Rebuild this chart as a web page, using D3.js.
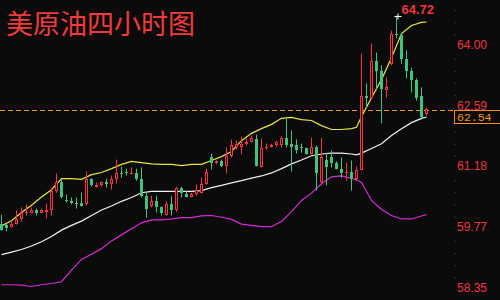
<!DOCTYPE html>
<html>
<head>
<meta charset="utf-8">
<script src="https://cdn.jsdelivr.net/npm/d3@7"></script>
<style>
  html, body { margin: 0; padding: 0; background: #0b0b0b; }
  svg { display: block; }
</style>
</head>
<body>
<div id="chart"></div>
<script>
const [width, height] = [500, 300];

const title = "美原油四小时图";

// 4h candles, oldest first
const open = [59.88, 59.84, 59.81, 59.88, 59.98, 60.14, 60.14, 60.21, 60.14, 60.16,
  60.19, 60.65, 60.84, 60.44, 60.40, 60.37, 60.37, 60.33, 60.91, 60.74,
  60.77, 60.84, 60.81, 60.93, 61.07, 61.09, 61.05, 61.05, 60.91, 60.53,
  60.28, 60.40, 60.26, 60.09, 60.33, 60.19, 60.72, 60.58, 60.51, 60.58,
  60.60, 60.81, 61.42, 61.28, 61.33, 61.23, 61.46, 61.67, 61.67, 61.74,
  61.77, 61.86, 61.19, 61.63, 61.67, 61.70, 61.72, 61.88, 61.74, 61.70,
  61.67, 61.63, 61.51, 61.67, 60.84, 61.37, 61.44, 61.28, 61.16, 61.05,
  61.09, 60.91, 61.14, 62.86, 62.81, 63.67, 63.44, 63.00, 63.60, 64.30,
  64.26, 63.72, 63.44, 63.21, 62.86, 62.44];
const high = [60.09, 59.88, 59.95, 60.19, 60.26, 60.33, 60.26, 60.23, 60.23, 60.35,
  60.70, 61.05, 60.91, 60.56, 60.49, 60.49, 60.60, 61.09, 60.93, 60.84,
  60.86, 60.93, 61.00, 61.37, 61.21, 61.16, 61.19, 61.16, 61.19, 60.60,
  60.53, 60.53, 60.28, 60.40, 60.53, 60.74, 60.74, 60.65, 60.60, 60.79,
  60.95, 61.16, 61.51, 61.35, 61.37, 61.65, 61.84, 61.81, 61.91, 61.86,
  61.93, 61.95, 61.86, 61.74, 61.74, 61.81, 61.91, 62.33, 62.05, 61.84,
  61.74, 61.65, 61.88, 61.70, 61.88, 61.53, 61.58, 61.33, 61.42, 61.30,
  61.35, 61.21, 63.84, 63.14, 64.07, 63.86, 63.56, 63.28, 64.37, 64.72,
  64.30, 63.91, 63.51, 63.26, 63.05, 62.58];
const low = [59.72, 59.70, 59.79, 59.86, 59.93, 60.07, 60.12, 60.07, 60.12, 60.00,
  60.07, 60.60, 60.47, 60.37, 60.33, 60.23, 60.28, 60.30, 60.74, 60.72,
  60.74, 60.72, 60.67, 60.81, 60.95, 61.00, 61.02, 60.88, 60.49, 60.02,
  60.26, 60.14, 60.07, 60.07, 60.07, 60.16, 60.49, 60.49, 60.49, 60.53,
  60.58, 60.79, 61.14, 61.26, 61.19, 61.05, 61.42, 61.60, 61.49, 61.70,
  61.77, 61.21, 61.19, 61.60, 61.65, 61.67, 61.65, 61.65, 61.09, 61.51,
  61.53, 61.49, 61.49, 60.65, 60.81, 60.77, 61.19, 61.14, 60.95, 60.88,
  60.65, 60.88, 61.12, 62.56, 62.79, 62.98, 62.21, 62.81, 63.56, 64.19,
  63.60, 63.26, 62.93, 62.74, 62.30, 62.40];
const close = [59.74, 59.79, 59.88, 59.98, 60.14, 60.16, 60.19, 60.12, 60.19, 60.21,
  60.63, 60.84, 60.49, 60.40, 60.35, 60.33, 60.30, 60.91, 60.77, 60.79,
  60.84, 60.81, 60.93, 61.05, 61.05, 61.07, 61.07, 60.91, 60.53, 60.23,
  60.40, 60.26, 60.12, 60.33, 60.19, 60.70, 60.60, 60.51, 60.56, 60.67,
  60.81, 61.09, 61.30, 61.33, 61.23, 61.46, 61.70, 61.74, 61.74, 61.79,
  61.88, 61.21, 61.63, 61.67, 61.72, 61.77, 61.88, 61.72, 61.67, 61.60,
  61.63, 61.51, 61.67, 61.05, 61.44, 61.19, 61.28, 61.16, 61.05, 61.09,
  60.91, 61.14, 62.84, 62.81, 63.67, 63.44, 63.02, 63.05, 64.30, 64.26,
  63.72, 63.44, 63.21, 62.81, 62.35, 62.54];

// bollinger bands, read at these candle indexes
const bandIdx = [0, 2, 4, 6, 8, 10, 12, 14, 16, 18, 20, 22, 24, 26, 28, 30, 32, 34, 36, 38,
  40, 42, 44, 46, 48, 50, 52, 54, 56, 58, 60, 62, 64, 66, 68, 70, 71, 72, 74, 76,
  78, 80, 82, 84, 85];
const upper = [59.83, 59.95, 60.14, 60.31, 60.50, 60.67, 60.93, 60.93, 60.91, 61.02,
  61.07, 61.16, 61.26, 61.33, 61.30, 61.27, 61.26, 61.26, 61.23, 61.26,
  61.26, 61.35, 61.44, 61.56, 61.81, 61.98, 62.09, 62.19, 62.33, 62.35,
  62.30, 62.28, 62.16, 62.07, 62.07, 62.09, 62.12, 62.37, 62.81, 63.23,
  63.74, 64.30, 64.49, 64.56, 64.57];
const middle = [59.16, 59.22, 59.28, 59.36, 59.46, 59.58, 59.73, 59.84, 59.94, 60.07,
  60.20, 60.29, 60.40, 60.49, 60.60, 60.63, 60.63, 60.63, 60.63, 60.63,
  60.65, 60.72, 60.77, 60.83, 60.88, 60.94, 60.99, 61.06, 61.16, 61.27,
  61.36, 61.46, 61.50, 61.52, 61.52, 61.50, 61.48, 61.52, 61.63, 61.74,
  61.93, 62.09, 62.23, 62.33, 62.36];
const lower = [58.46, 58.46, 58.45, 58.42, 58.46, 58.49, 58.53, 58.80, 59.05, 59.17,
  59.30, 59.48, 59.62, 59.76, 59.90, 59.97, 59.97, 59.99, 60.02, 60.02,
  60.06, 60.07, 60.03, 59.98, 59.87, 59.84, 59.81, 59.81, 59.93, 60.16,
  60.42, 60.59, 60.81, 60.97, 60.99, 60.93, 60.90, 60.84, 60.42, 60.21,
  60.07, 59.99, 59.99, 60.06, 60.09];

const tickLabels = [64.00, 62.59, 61.18, 59.77, 58.35];
const lastPrice = 62.54;

const bg = "#0b0b0b";
const upColor = "#ff2e40";
const downColor = "#3ec47e";
const textRed = "#f0343f";
const orange = "#f7931e";

const svg = d3.select("#chart")
  .append("svg")
  .attr("width", width)
  .attr("height", height);

svg.append("rect").attr("width", width).attr("height", height).attr("fill", bg);

const x = d3.scaleLinear().domain([0, close.length - 1]).range([1, 426]);
const y = d3.scaleLinear().domain([58.35, 64.00]).range([289.5, 46.5]);

// minor tick dots on the right, five per labelled step
const step = (tickLabels[0] - tickLabels[4]) / 20;
const minor = d3.range(-3, 21).filter(k => k % 5 !== 0).map(k => tickLabels[0] - k * step);

const dots = svg.append("g")
  .attr("transform", "translate(454.5,0)")
  .call(d3.axisRight(y).tickValues(minor).tickSize(1).tickFormat(""));
dots.select(".domain").remove();
dots.selectAll("line").attr("stroke", "#555");

const labels = svg.append("g")
  .attr("transform", "translate(457,0)")
  .call(d3.axisRight(y).tickValues(tickLabels).tickSize(0).tickPadding(0).tickFormat(d3.format(".2f")));
labels.select(".domain").remove();
labels.selectAll("text")
  .attr("dy", "0.18em")
  .attr("fill", textRed)
  .style("font-family", "'Liberation Sans', Arial, sans-serif")
  .style("font-size", "12px");

// bands
const bandLine = vals => d3.line()
  .x((d, k) => x(bandIdx[k]) + 0.5)
  .y(d => y(d))(vals);

svg.append("path").attr("d", bandLine(lower)).attr("fill", "none").attr("stroke", "#d829d8").attr("stroke-width", 1.2);
svg.append("path").attr("d", bandLine(middle)).attr("fill", "none").attr("stroke", "#f2f2f2").attr("stroke-width", 1.2);
svg.append("path").attr("d", bandLine(upper)).attr("fill", "none").attr("stroke", "#e8e83a").attr("stroke-width", 1.2);

// last price dashed line
const lastY = Math.ceil(y(lastPrice)) + 0.5;
svg.append("line")
  .attr("x1", 0).attr("x2", 453)
  .attr("y1", lastY).attr("y2", lastY)
  .attr("stroke", orange)
  .attr("stroke-dasharray", "5,3");

// candles
const idx = d3.range(close.length);
const candle = svg.append("g").selectAll("g").data(idx).join("g");

candle.append("line")
  .attr("x1", i => Math.round(x(i)) + 0.5)
  .attr("x2", i => Math.round(x(i)) + 0.5)
  .attr("y1", i => y(high[i]))
  .attr("y2", i => y(low[i]))
  .attr("stroke", i => close[i] >= open[i] ? upColor : downColor);

candle.append("rect")
  .each(function(i) {
    const cx = Math.round(x(i));
    const top = Math.round(y(Math.max(open[i], close[i])));
    const bot = Math.round(y(Math.min(open[i], close[i])));
    const h = Math.max(1, bot - top);
    const up = close[i] >= open[i];
    const r = d3.select(this);
    if (up && h >= 3) {
      r.attr("x", cx - 0.5).attr("y", top + 0.5).attr("width", 2).attr("height", h - 1)
        .attr("fill", bg).attr("stroke", upColor);
    } else {
      r.attr("x", cx - 1).attr("y", top).attr("width", 3).attr("height", h)
        .attr("fill", up ? upColor : downColor);
    }
  });

// highest point marker
const hi = d3.maxIndex(high);
const hx = Math.round(x(hi)) + 1.5, hy = Math.round(y(high[hi])) + 0.5;
svg.append("path")
  .attr("d", `M${hx - 3},${hy}H${hx + 4}M${hx + 0.5},${hy - 3}V${hy + 3}`)
  .attr("stroke", "#fff");
svg.append("text")
  .attr("x", hx + 4).attr("y", hy - 3)
  .attr("fill", textRed)
  .style("font-family", "'Liberation Sans', Arial, sans-serif")
  .style("font-size", "13px")
  .style("font-weight", "bold")
  .text(d3.format(".2f")(high[hi]));

// last price box
svg.append("rect")
  .attr("x", 454.5).attr("y", lastY)
  .attr("width", 50).attr("height", 13)
  .attr("fill", bg)
  .attr("stroke", orange);
svg.append("text")
  .attr("x", 457).attr("y", lastY + 10.5)
  .attr("fill", orange)
  .style("font-family", "'Liberation Mono', 'DejaVu Sans Mono', monospace")
  .style("font-size", "11.5px")
  .text(d3.format(".2f")(lastPrice));

// title
svg.append("text")
  .attr("x", 6).attr("y", 34)
  .attr("fill", "#f23a3a")
  .style("font-family", "'Noto Sans CJK SC', sans-serif")
  .style("font-size", "27px")
  .text(title);
</script>
</body>
</html>
